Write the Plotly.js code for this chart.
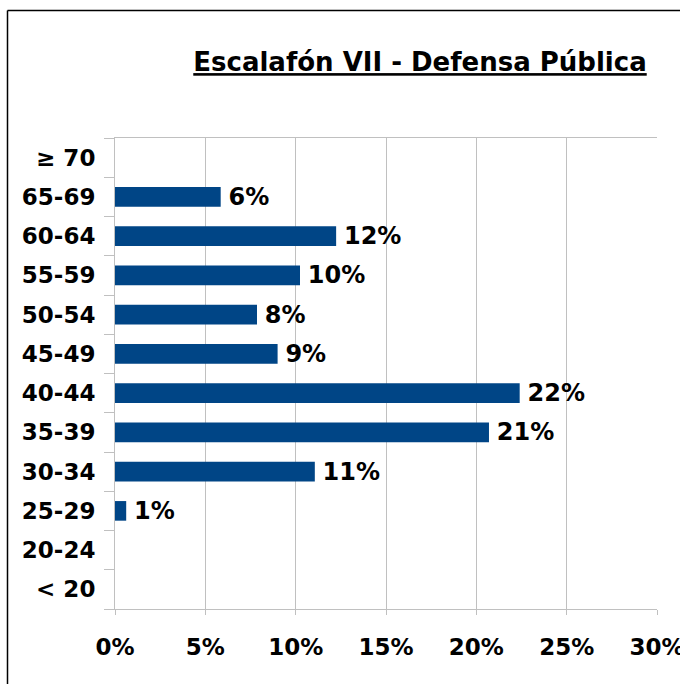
<!DOCTYPE html>
<html>
<head>
<meta charset="utf-8">
<script src="https://cdn.plot.ly/plotly-3.0.1.min.js"></script>
<style>
html,body{margin:0;padding:0;background:#fff;}
#chart{width:680px;height:684px;}
</style>
</head>
<body>
<div id="chart"></div>
<script>
const categories = ["< 20", "20-24", "25-29", "30-34", "35-39", "40-44", "45-49", "50-54", "55-59", "60-64", "65-69", "≥ 70"];
const shares = [null, null, 0.0062, 0.1106, 0.2070, 0.2240, 0.0900, 0.0786, 0.1024, 0.1224, 0.0585, null];
const xTickVals = [0, 0.05, 0.10, 0.15, 0.20, 0.25, 0.30];
const xTickText = ["0%", "5%", "10%", "15%", "20%", "25%", "30%"];
const titleText = "Escalafón VII - Defensa Pública";

const FONT = "DejaVu Sans, Verdana, sans-serif";
const L = 115, R = 23, T = 138, B = 75, W = 680, H = 684;
const pw = W - L - R, ph = H - T - B;
const bx = (7.5 - L) / pw, by = 1 + (T - 10.5) / ph;

const trace = {
  type: "bar",
  orientation: "h",
  y: categories,
  x: shares,
  marker: {color: "#004586", line: {width: 0}},
  width: 0.5,
  texttemplate: "\u2009%{x:.0%}",
  textposition: "outside",
  constraintext: "none",
  cliponaxis: false,
  textfont: {family: FONT, size: 24, color: "#000", weight: "bold"},
  hoverinfo: "skip"
};

const layout = {
  width: W, height: H,
  margin: {l: L, r: R, t: T, b: B, pad: 0},
  paper_bgcolor: "#fff",
  plot_bgcolor: "#fff",
  showlegend: false,
  font: {family: FONT, color: "#000"},
  title: {
    text: "<b><u>" + titleText + "</u></b>",
    font: {family: FONT, size: 26, color: "#000"},
    x: 420 / W, xanchor: "center", xref: "container",
    y: 1 - 62 / H, yanchor: "middle", yref: "container"
  },
  xaxis: {
    range: [0, 0.30],
    tickvals: xTickVals,
    ticktext: xTickText,
    showgrid: true,
    gridcolor: "#c0c0c0",
    gridwidth: 1,
    zeroline: false,
    showline: true,
    linecolor: "#c0c0c0",
    linewidth: 1,
    mirror: true,
    ticks: "outside",
    ticklen: 5,
    tickcolor: "#c0c0c0",
    ticklabelstandoff: 12,
    ticklabeloverflow: "allow",
    tickfont: {family: FONT, size: 23, color: "#000", weight: "bold"},
    fixedrange: true
  },
  yaxis: {
    type: "category",
    categoryorder: "array",
    categoryarray: categories,
    showgrid: false,
    zeroline: false,
    showline: true,
    linecolor: "#c0c0c0",
    linewidth: 1,
    ticks: "outside",
    tickson: "boundaries",
    ticklen: 10,
    tickcolor: "#c0c0c0",
    ticklabelstandoff: 14,
    tickfont: {family: FONT, size: 23, color: "#000", weight: "bold"},
    fixedrange: true
  },
  shapes: [
    {type: "line", xref: "paper", yref: "paper", x0: bx, x1: bx, y0: -0.5, y1: by, line: {color: "#000", width: 1.5}},
    {type: "line", xref: "paper", yref: "paper", x0: bx, x1: 1.2, y0: by, y1: by, line: {color: "#000", width: 1.5}}
  ]
};

Plotly.newPlot("chart", [trace], layout, {displayModeBar: false, staticPlot: true});
</script>
</body>
</html>
